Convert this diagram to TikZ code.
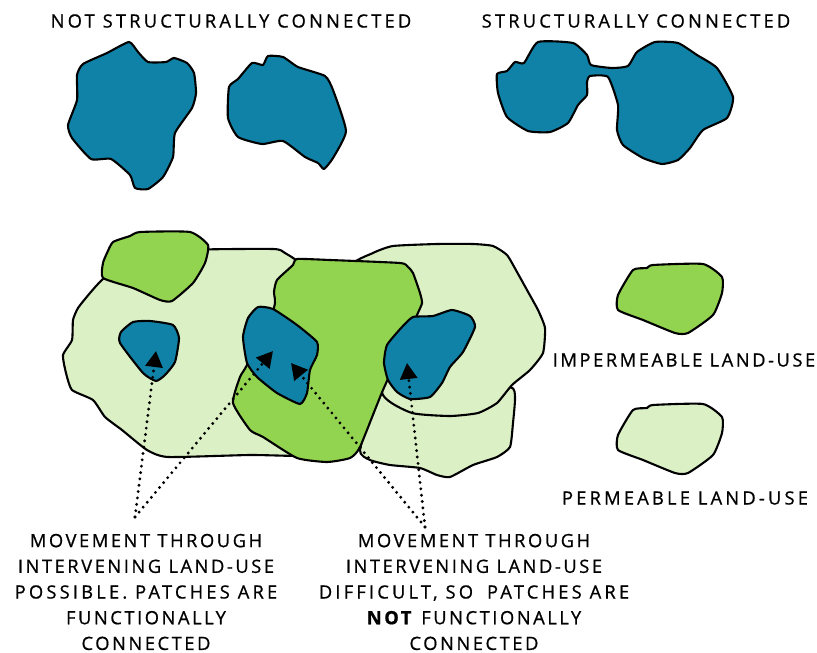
\documentclass[tikz,border=0pt]{standalone}
\usepackage{fontspec}
\setmainfont[LetterSpace=14,FakeBold=0.8]{Open Sans}
\usepackage{xcolor}
\usetikzlibrary{arrows.meta}
\definecolor{patchblue}{RGB}{16, 130, 168}
\definecolor{hardgreen}{RGB}{146, 211, 80}
\definecolor{softgreen}{RGB}{220, 240, 198}
\newcommand{\wideline}[1]{{\addfontfeature{LetterSpace=17.5}#1}}

\begin{document}
\begin{tikzpicture}[
    x=1pt, y=-1pt,
    blob/.style={draw=black, line width=2.1pt, line join=round},
    patch/.style={blob, fill=patchblue},
    hard/.style={blob, fill=hardgreen},
    soft/.style={blob, fill=softgreen},
    wobble/.style={smooth cycle, tension=0.32},
    dotarrow/.style={line width=3.2pt, line cap=round, dash pattern=on 0pt off 6.4pt, -{Triangle[length=16pt, width=17pt]}},
    label/.style={align=center, font=\fontsize{18.3}{25.7}\selectfont, inner sep=0pt}
]
\useasboundingbox (0,0) rectangle (817,653);

\draw[patch] plot[wobble] coordinates {(129,42) (138,52) (148,62) (166,62) (174,58) (187,63) (194,73) (196,93) (192,108) (175,133) (173,157) (163,177) (148,189) (135,188) (130,175) (111,159) (91,159) (72,138) (68,125) (77,100) (77,75) (83,64) (107,53)};
\draw[patch] plot[wobble] coordinates {(268,56) (283,57) (298,67) (325,76) (333,90) (346,131) (333,158) (324,169) (318,163) (305,157) (283,141) (262,144) (238,137) (228,118) (229,87) (238,79) (252,63) (263,65)};
\draw[patch] plot[wobble] coordinates {(538,42) (573,43) (587,55) (591,65) (612,68) (628,66) (637,52) (655,42) (678,43) (697,55) (717,68) (733,97) (727,118) (703,130) (690,148) (678,160) (662,164) (643,158) (623,145) (617,130) (618,105) (608,77) (590,76) (587,82) (587,95) (578,105) (568,123) (550,132) (528,131) (507,117) (498,93) (497,74) (507,71) (515,62) (524,63)};

\draw[soft] plot[wobble] coordinates {(510,387) (515,398) (513,423) (510,447) (497,457) (473,465) (450,477) (437,475) (420,468) (390,465) (370,460) (360,450) (380,395) (450,390)};
\draw[soft] plot[wobble] coordinates {(350,268) (373,253) (393,246) (437,244) (473,244) (493,246) (507,255) (517,272) (527,290) (538,310) (545,328) (543,353) (530,370) (512,385) (497,403) (478,413) (450,416) (412,413) (383,395) (370,330)};
\draw[soft] plot[wobble] coordinates {(190,250) (273,249) (285,253) (305,270) (330,350) (320,455) (297,456) (250,455) (168,457) (147,450) (122,430) (105,417) (93,400) (72,390) (66,373) (63,355) (72,340) (73,320) (78,308) (90,293) (103,279) (130,260)};

\draw[hard] plot[wobble] coordinates {(297,259) (330,260) (400,263) (408,267) (413,273) (420,293) (422,303) (417,315) (383,390) (360,447) (350,458) (327,462) (297,458) (263,437) (250,430) (233,403) (240,377) (247,365) (274,308) (274,292) (277,280) (293,265)};
\draw[hard] plot[wobble] coordinates {(140,232) (190,232) (208,245) (205,263) (193,283) (172,301) (160,300) (133,288) (103,278) (103,263) (107,253) (113,242) (130,236)};

\draw[patch] plot[wobble] coordinates {(133,322) (150,321) (173,325) (179,338) (175,362) (165,375) (156,381) (143,373) (120,343) (121,332)};
\draw[patch] plot[wobble] coordinates {(258,307) (273,309) (297,325) (317,342) (317,355) (310,370) (307,393) (300,404) (277,393) (257,377) (247,363) (243,337) (248,318)};
\draw[patch] plot[wobble] coordinates {(413,317) (433,316) (452,310) (470,316) (475,327) (463,352) (450,367) (442,383) (430,397) (410,399) (397,392) (388,380) (384,363) (387,345) (402,327)};

\draw[hard] plot[wobble] coordinates {(653,265) (703,264) (722,277) (722,293) (713,315) (688,333) (675,333) (643,320) (618,310) (618,295) (633,270) (647,268)};
\draw[soft, shift={(0,140)}] plot[wobble] coordinates {(653,265) (703,264) (722,277) (722,293) (713,315) (688,333) (675,333) (643,320) (618,310) (618,295) (633,270) (647,268)};

\coordinate (possible) at (135,517);
\coordinate (difficult) at (425,527);
\coordinate (smalltip) at (156,351);
\coordinate (midtipa) at (273,351);
\coordinate (midtipb) at (291,363);
\coordinate (righttip) at (407,363);

\draw[dotarrow] (possible) -- (smalltip);
\draw[dotarrow] (possible) -- (midtipa);
\draw[dotarrow] (difficult) -- (midtipb);
\draw[dotarrow] (difficult) -- (righttip);

\node[label] (notconn) at (231,21) {\wideline{NOT STRUCTURALLY CONNECTED}};
\node[label] (conn) at (636,21) {\wideline{STRUCTURALLY CONNECTED}};
\node[label] (impermeable) at (684,360) {IMPERMEABLE LAND-USE};
\node[label] (permeable) at (685,498) {\wideline{PERMEABLE LAND-USE}};
\node[label] (possibletext) at (146,592) {MOVEMENT THROUGH\\INTERVENING LAND-USE\\\wideline{POSSIBLE. PATCHES ARE}\\FUNCTIONALLY\\CONNECTED};
\node[label] (difficulttext) at (474,592) {MOVEMENT THROUGH\\INTERVENING LAND-USE\\\wideline{DIFFICULT, SO\hspace{6pt} PATCHES ARE}\\\textbf{NOT} FUNCTIONALLY\\CONNECTED};

\end{tikzpicture}
\end{document}
